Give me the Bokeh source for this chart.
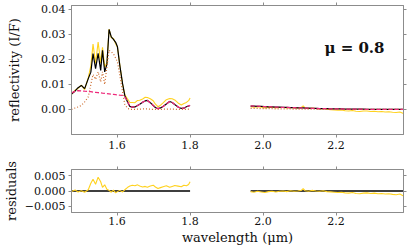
from bokeh.plotting import figure
from bokeh.layouts import column
from bokeh.models import Range1d, FixedTicker, LinearAxis, Label
from bokeh.embed import file_html
from bokeh.resources import INLINE

# ---------------- data ----------------
wl_a = [1.475, 1.485, 1.493, 1.502, 1.511, 1.521, 1.528, 1.534, 1.541, 1.548, 1.555, 1.560,
        1.566, 1.572, 1.578, 1.584, 1.590, 1.596, 1.601, 1.607, 1.615, 1.621, 1.629, 1.635,
        1.642, 1.649, 1.656, 1.662, 1.670, 1.677, 1.683, 1.691, 1.699, 1.705, 1.712, 1.719,
        1.726, 1.735, 1.744, 1.751, 1.758, 1.767, 1.776, 1.783, 1.790, 1.796, 1.800]
model_a = [0.0062, 0.0074, 0.0087, 0.0096, 0.0083, 0.0123, 0.0149, 0.0223, 0.0163, 0.0224, 0.0156, 0.0236,
           0.0150, 0.0180, 0.0319, 0.0290, 0.0280, 0.0268, 0.0250, 0.0180, 0.0103, 0.0056, 0.0029, 0.0012,
           0.0009, 0.0010, 0.0016, 0.0021, 0.0029, 0.0034, 0.0036, 0.0027, 0.0016, 0.0008, 0.0003, 0.0006,
           0.0012, 0.0022, 0.0032, 0.0028, 0.0020, 0.0010, 0.0004, 0.0005, 0.0011, 0.0014, 0.0016]
data_a = [0.0060, 0.0077, 0.0084, 0.0097, 0.0079, 0.0127, 0.0174, 0.0261, 0.0185, 0.0269, 0.0186, 0.0248,
          0.0170, 0.0186, 0.0321, 0.0286, 0.0283, 0.0262, 0.0248, 0.0182, 0.0100, 0.0060, 0.0041, 0.0028,
          0.0028, 0.0027, 0.0036, 0.0037, 0.0042, 0.0049, 0.0048, 0.0043, 0.0035, 0.0021, 0.0011, 0.0017,
          0.0026, 0.0039, 0.0044, 0.0043, 0.0038, 0.0026, 0.0018, 0.0024, 0.0028, 0.0035, 0.0046]
resid_a = [-0.0002, 0.0003, -0.0003, 0.0001, -0.0004, 0.0004, 0.0025, 0.0038, 0.0022, 0.0045, 0.0030, 0.0012,
           0.0020, 0.0006, 0.0002, -0.0004, 0.0003, -0.0006, -0.0002, 0.0002, -0.0003, 0.0004, 0.0012, 0.0016,
           0.0019, 0.0017, 0.0020, 0.0016, 0.0013, 0.0015, 0.0012, 0.0016, 0.0019, 0.0013, 0.0008, 0.0011,
           0.0014, 0.0017, 0.0012, 0.0015, 0.0018, 0.0016, 0.0014, 0.0019, 0.0017, 0.0021, 0.0030]
comp1_a = [0.0066, 0.0072, 0.0075, 0.0074, 0.0073, 0.0072, 0.0071, 0.0069, 0.0068, 0.0067, 0.0066, 0.0065,
           0.0064, 0.0063, 0.0062, 0.0061, 0.0060, 0.0059, 0.0058, 0.0057, 0.0056, 0.0050, 0.0031, 0.0013,
           0.0009, 0.0010, 0.0016, 0.0021, 0.0029, 0.0034, 0.0036, 0.0027, 0.0016, 0.0008, 0.0003, 0.0006,
           0.0012, 0.0022, 0.0032, 0.0028, 0.0020, 0.0010, 0.0004, 0.0005, 0.0011, 0.0014, 0.0016]
comp2_a = [0.0000, 0.0006, 0.0010, 0.0016, 0.0030, 0.0050, 0.0100, 0.0140, 0.0120, 0.0150, 0.0110, 0.0150,
           0.0100, 0.0170, 0.0236, 0.0230, 0.0222, 0.0205, 0.0190, 0.0140, 0.0070, 0.0020, 0.0004, 0.0001,
           0.0000, 0.0000, 0.0001, 0.0001, 0.0002, 0.0002, 0.0002, 0.0001, 0.0000, 0.0000, 0.0000, 0.0000,
           0.0001, 0.0001, 0.0002, 0.0001, 0.0001, 0.0000, 0.0000, 0.0000, 0.0000, 0.0001, 0.0001]

wl_b = [1.966, 1.975, 1.985, 1.995, 2.005, 2.015, 2.025, 2.035, 2.045, 2.055, 2.065, 2.075,
        2.085, 2.095, 2.105, 2.110, 2.115, 2.125, 2.135, 2.145, 2.155, 2.165, 2.175, 2.185,
        2.195, 2.205, 2.215, 2.225, 2.235, 2.245, 2.255, 2.265, 2.275, 2.285, 2.295, 2.305,
        2.315, 2.325, 2.335, 2.345, 2.355, 2.365, 2.375, 2.385]
model_b = [0.0013, 0.0013, 0.0012, 0.0012, 0.0011, 0.0010, 0.0010, 0.0009, 0.0009, 0.0008, 0.0008, 0.0007,
           0.0007, 0.0006, 0.0006, 0.0006, 0.0005, 0.0005, 0.0004, 0.0004, 0.0003, 0.0003, 0.0003, 0.0002,
           0.0002, 0.0002, 0.0002, 0.0001, 0.0001, 0.0001, 0.0001, 0.0001, 0.0001, 0.0000, 0.0000, 0.0000,
           0.0000, 0.0000, 0.0000, 0.0000, 0.0000, 0.0000, 0.0000, 0.0000]
data_b = [0.0011, 0.0009, 0.0011, 0.0009, 0.0006, 0.0008, 0.0009, 0.0006, 0.0008, 0.0008, 0.0006, 0.0008,
          0.0006, 0.0006, 0.0008, 0.0014, 0.0006, 0.0004, 0.0006, 0.0004, 0.0002, 0.0004, 0.0001, -0.0001,
          -0.0002, -0.0003, -0.0002, -0.0005, -0.0006, -0.0004, -0.0007, -0.0008, -0.0006, -0.0006, -0.0008, -0.0007,
          -0.0009, -0.0008, -0.0010, -0.0009, -0.0011, -0.0012, -0.0010, -0.0016]
resid_b = [-0.0002, -0.0004, -0.0001, -0.0003, -0.0005, -0.0002, -0.0001, -0.0003, -0.0001, 0.0000, -0.0002, 0.0001,
           -0.0001, 0.0000, 0.0002, 0.0008, 0.0001, -0.0001, 0.0002, 0.0000, -0.0001, 0.0001, -0.0002, -0.0003,
           -0.0004, -0.0005, -0.0004, -0.0006, -0.0007, -0.0005, -0.0008, -0.0009, -0.0007, -0.0006, -0.0008, -0.0007,
           -0.0009, -0.0008, -0.0010, -0.0009, -0.0011, -0.0012, -0.0010, -0.0016]
comp1_b = [0.0014, 0.0013, 0.0013, 0.0012, 0.0011, 0.0011, 0.0010, 0.0009, 0.0009, 0.0008, 0.0008, 0.0007,
           0.0007, 0.0006, 0.0006, 0.0006, 0.0005, 0.0005, 0.0004, 0.0004, 0.0003, 0.0003, 0.0003, 0.0002,
           0.0002, 0.0002, 0.0002, 0.0001, 0.0001, 0.0001, 0.0001, 0.0001, 0.0001, 0.0000, 0.0000, 0.0000,
           0.0000, 0.0000, 0.0000, 0.0000, 0.0000, 0.0000, 0.0000, 0.0000]
comp2_b = [0.0004, 0.0004, 0.0004, 0.0003, 0.0003, 0.0003, 0.0003, 0.0002, 0.0002, 0.0002, 0.0002, 0.0002,
           0.0001, 0.0001, 0.0001, 0.0001, 0.0001, 0.0001, 0.0001, 0.0001, 0.0000, 0.0000, 0.0000, 0.0000,
           0.0000, 0.0000, 0.0000, 0.0000, 0.0000, 0.0000, 0.0000, 0.0000, 0.0000, 0.0000, 0.0000, 0.0000,
           0.0000, 0.0000, 0.0000, 0.0000, 0.0000, 0.0000, 0.0000, 0.0000]

x_ticks = [1.6, 1.8, 2.0, 2.2]
x_tick_labels = ["1.6", "1.8", "2.0", "2.2"]
y_ticks_top = [0.0, 0.01, 0.02, 0.03, 0.04]
y_tick_labels_top = ["0.00", "0.01", "0.02", "0.03", "0.04"]
y_ticks_res = [-0.005, 0.0, 0.005]
y_tick_labels_res = ["\u22120.005", "0.000", "0.005"]

mu_text = "\u03bc = 0.8"

# ---------------- style ----------------
FONT = "DejaVu Serif"
FS = "11px"
LFS = "13px"
FRAME = "#8c8c8c"
YELLOW = "#FFD21F"
PINK = "#EE2A7B"
ORANGE = "#CC6A2C"
TXT = "#111111"
X_RANGE = (1.475, 2.385)
W = 414


def style(p, xt, xl, yt, yl):
    p.xgrid.visible = False
    p.ygrid.visible = False
    p.outline_line_color = FRAME
    p.outline_line_width = 1
    p.background_fill_color = "white"
    p.border_fill_color = "white"
    bx, ly = p.below[0], p.left[0]
    bx.ticker = FixedTicker(ticks=xt)
    bx.major_label_overrides = dict(zip(xt, xl))
    ly.ticker = FixedTicker(ticks=yt)
    ly.major_label_overrides = dict(zip(yt, yl))
    ax_top = LinearAxis(ticker=FixedTicker(ticks=xt), major_label_standoff=0,
                        major_label_overrides={t: "" for t in xt})
    ax_right = LinearAxis(ticker=FixedTicker(ticks=yt), major_label_standoff=0,
                          major_label_overrides={t: "" for t in yt})
    p.add_layout(ax_top, "above")
    p.add_layout(ax_right, "right")
    for ax in [bx, ly, ax_top, ax_right]:
        ax.axis_line_color = FRAME
        ax.major_tick_line_color = FRAME
        ax.minor_tick_line_color = None
        ax.major_tick_in = 0
        ax.major_tick_out = 3
        ax.axis_label_text_font = FONT
        ax.axis_label_text_font_size = LFS
        ax.axis_label_text_font_style = "normal"
        ax.axis_label_text_color = TXT
        ax.major_label_text_font = FONT
        ax.major_label_text_font_size = FS
        ax.major_label_text_color = TXT
    for ax in [bx, ly]:
        ax.major_label_standoff = 3
    return bx, ly


# ---------------- top panel ----------------
p1 = figure(width=W, height=153, x_range=Range1d(*X_RANGE), y_range=Range1d(-0.01, 0.0415),
            output_backend="svg", toolbar_location=None,
            min_border_left=70, min_border_right=W - 403, min_border_top=5, min_border_bottom=19)
bx1, ly1 = style(p1, x_ticks, x_tick_labels, y_ticks_top, y_tick_labels_top)
ly1.axis_label = "reflectivity (I/F)"
ly1.axis_label_standoff = 16
bx1.major_label_standoff = 3

for wl, dat, mod, c1, c2 in [(wl_a, data_a, model_a, comp1_a, comp2_a),
                             (wl_b, data_b, model_b, comp1_b, comp2_b)]:
    p1.line(wl, dat, line_color=YELLOW, line_width=1.1)
    p1.line(wl, mod, line_color="black", line_width=1.2)
    p1.line(wl, c2, line_color=ORANGE, line_width=1.2, line_dash="1 2")
    p1.line(wl, c1, line_color=PINK, line_width=1.3, line_dash="4 2")

p1.add_layout(Label(x=2.333, y=0.0245, text=mu_text, text_align="right", text_baseline="middle",
                    text_font=FONT, text_font_size="15px", text_font_style="bold",
                    text_color=TXT))

# ---------------- residual panel ----------------
p2 = figure(width=W, height=96, x_range=p1.x_range, y_range=Range1d(-0.007, 0.007),
            output_backend="svg", toolbar_location=None,
            min_border_left=70, min_border_right=W - 403, min_border_top=16, min_border_bottom=37)
bx2, ly2 = style(p2, x_ticks, x_tick_labels, y_ticks_res, y_tick_labels_res)
ly2.axis_label = "residuals"
ly2.axis_label_standoff = 3
bx2.axis_label = "wavelength (\u03bcm)"
bx2.axis_label_standoff = 2
bx2.major_label_standoff = 1

for wl, res in [(wl_a, resid_a), (wl_b, resid_b)]:
    p2.line(wl, [0.0] * len(wl), line_color="black", line_width=1.5)
    p2.line(wl, res, line_color=YELLOW, line_width=1.1)

layout = column(p1, p2, spacing=0)
open("out.html", "w").write(file_html(layout, INLINE))
